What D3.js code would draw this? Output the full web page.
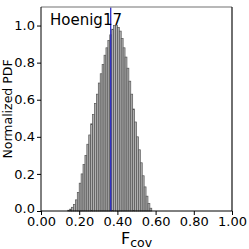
<!DOCTYPE html>
<html>
<head>
<meta charset="utf-8">
<script src="https://cdn.jsdelivr.net/npm/d3@7"></script>
<style>
  body { margin: 0; background: #fff; }
  text { font-family: "DejaVu Sans", sans-serif; }
</style>
</head>
<body>
<svg id="chart"></svg>
<script>
// histogram bins (left edge) and normalized heights
const binStarts = [0.14, 0.15, 0.16, 0.17, 0.18, 0.19, 0.20, 0.21, 0.22, 0.23,
  0.24, 0.25, 0.26, 0.27, 0.28, 0.29, 0.30, 0.31, 0.32, 0.33,
  0.34, 0.35, 0.36, 0.37, 0.38, 0.39, 0.40, 0.41, 0.42, 0.43,
  0.44, 0.45, 0.46, 0.47, 0.48, 0.49, 0.50, 0.51, 0.52, 0.53,
  0.54, 0.55, 0.56, 0.57];
const pdfValues = [0.004, 0.01, 0.02, 0.035, 0.06, 0.10, 0.15, 0.20, 0.25, 0.30,
  0.36, 0.41, 0.47, 0.52, 0.58, 0.63, 0.69, 0.74, 0.79, 0.84,
  0.88, 0.92, 0.95, 0.98, 1.00, 1.00, 0.99, 0.97, 0.93, 0.88,
  0.83, 0.77, 0.70, 0.63, 0.55, 0.48, 0.40, 0.33, 0.26, 0.19,
  0.13, 0.08, 0.04, 0.015];
const binWidth = 0.01;
const markerValue = 0.365;
const xTicks = [0, 0.2, 0.4, 0.6, 0.8, 1.0];
const yTicks = [0, 0.2, 0.4, 0.6, 0.8, 1.0];
const label = "Hoenig17";

const width = 249, height = 249;
const marginLeft = 41, marginRight = 17, marginTop = 7, marginBottom = 38;

const svg = d3.select("#chart").attr("width", width).attr("height", height);

const x = d3.scaleLinear().domain([0, 1]).range([marginLeft, width - marginRight]);
const y = d3.scaleLinear().domain([0, 1.1]).range([height - marginBottom, marginTop]);

const bins = binStarts.map((b, i) => ({ x0: b, x1: b + binWidth, v: pdfValues[i] }));

svg.append("g")
  .selectAll("rect")
  .data(bins)
  .join("rect")
  .attr("x", d => x(d.x0))
  .attr("y", d => y(d.v))
  .attr("width", d => x(d.x1) - x(d.x0))
  .attr("height", d => y(0) - y(d.v))
  .attr("fill", "#b0b0b0")
  .attr("stroke", "#555")
  .attr("stroke-width", 0.7);

svg.append("line")
  .attr("x1", x(markerValue)).attr("x2", x(markerValue))
  .attr("y1", y(1.1)).attr("y2", y(0))
  .attr("stroke", "#2a2ac8")
  .attr("stroke-width", 1.3);

// top / right spines
svg.append("line")
  .attr("x1", x(0)).attr("x2", x(1)).attr("y1", y(1.1)).attr("y2", y(1.1))
  .attr("stroke", "#a0a0a0").attr("stroke-width", 1.5);
svg.append("line")
  .attr("x1", x(1)).attr("x2", x(1)).attr("y1", y(1.1)).attr("y2", y(0))
  .attr("stroke", "#222").attr("stroke-width", 1.3);

const xAxis = svg.append("g")
  .attr("transform", `translate(0, ${y(0)})`)
  .call(d3.axisBottom(x).tickValues(xTicks).tickFormat(d3.format(".2f")).tickSize(4).tickPadding(2));
const yAxis = svg.append("g")
  .attr("transform", `translate(${marginLeft}, 0)`)
  .call(d3.axisLeft(y).tickValues(yTicks).tickFormat(d3.format(".1f")).tickSize(4).tickPadding(2));

[xAxis, yAxis].forEach(g => {
  g.select(".domain").attr("stroke", "#000").attr("stroke-width", 1);
  g.selectAll(".tick line").attr("stroke", "#000");
  g.selectAll(".tick text")
    .attr("fill", "#000")
    .style("font-family", "DejaVu Sans")
    .style("font-size", "13px");
});
// lift the lowest y label a touch so it clears the 0.00 label
yAxis.selectAll(".tick text").filter(d => d === 0).attr("dy", "0.1em");
yAxis.select(".domain").attr("d", `M0,${y(0)}V${y(1.1)}`);
xAxis.select(".domain").attr("d", `M${x(0)},0H${x(1)}`);

svg.append("text")
  .attr("x", 50).attr("y", 25)
  .style("font-size", "15px")
  .text(label);

svg.append("text")
  .attr("transform", `translate(12, ${(y(0) + y(1.1)) / 2}) rotate(-90)`)
  .attr("text-anchor", "middle")
  .style("font-size", "12.5px")
  .text("Normalized PDF");

const xl = svg.append("text")
  .attr("x", (x(0) + x(1)) / 2).attr("y", 244)
  .attr("text-anchor", "middle")
  .style("font-size", "16px");
xl.append("tspan").text("F");
xl.append("tspan").attr("dy", 3).style("font-size", "12.5px").text("cov");
</script>
</body>
</html>
